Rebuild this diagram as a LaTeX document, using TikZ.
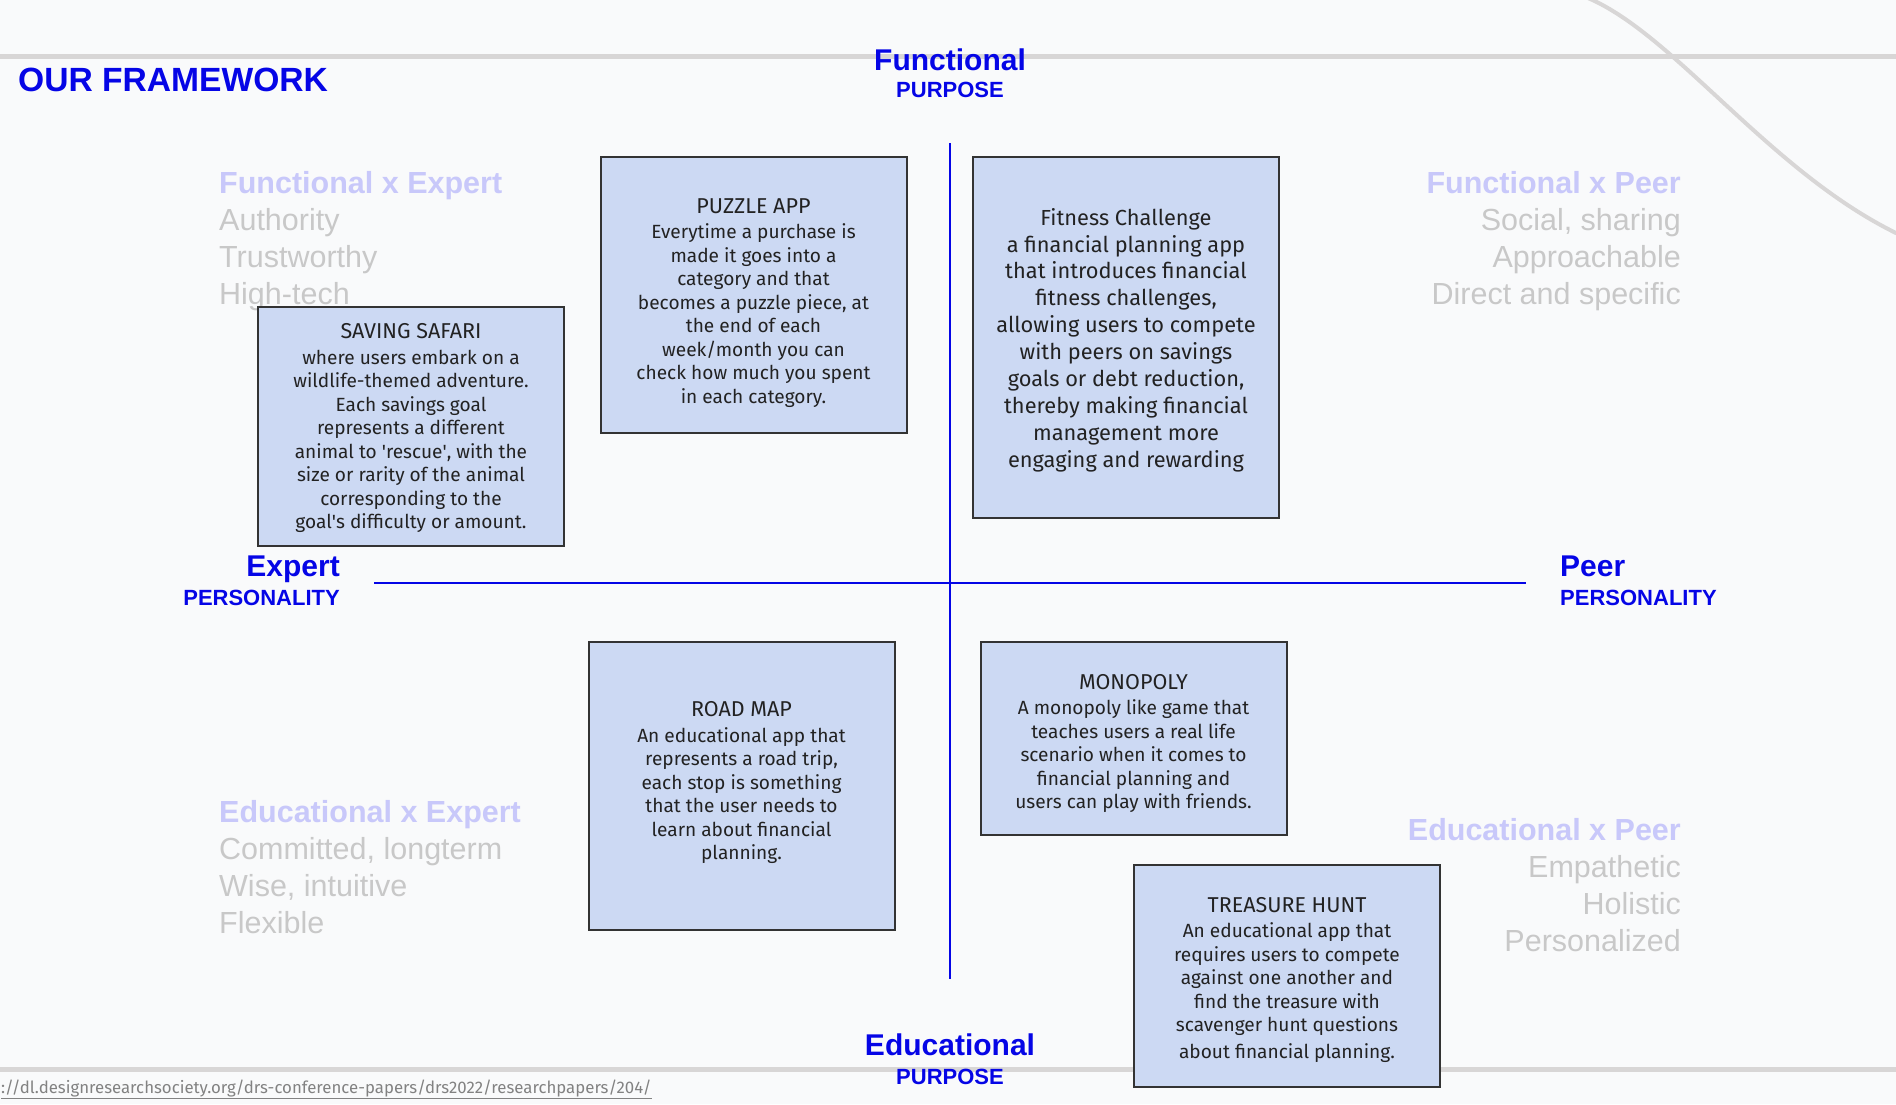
\documentclass[tikz,border=0pt]{standalone}
\usepackage{fontspec}
\setmainfont{Liberation Sans}
\newfontfamily\boxfont{Fira Sans}
\usetikzlibrary{positioning}
\definecolor{pagebg}{RGB}{249,250,251}
\definecolor{axisblue}{RGB}{5,5,230}
\definecolor{quadlav}{RGB}{200,200,250}
\definecolor{quadgrey}{RGB}{200,200,200}
\definecolor{rulegrey}{RGB}{216,214,214}
\definecolor{boxfill}{RGB}{204,217,243}
\definecolor{boxline}{RGB}{51,51,51}
\definecolor{boxtext}{RGB}{34,34,34}
\definecolor{urlgrey}{RGB}{130,130,130}
\tikzset{
	appbox/.style={
		rectangle,
		draw=boxline, line width=2pt,
		fill=boxfill,
		inner sep=0pt,
		minimum width=306pt,
		align=center,
		text=boxtext,
		font=\boxfont\fontsize{19.1}{23.5}\selectfont,
	},
	axislabel/.style={
		inner sep=0pt,
		text=axisblue,
		font=\bfseries\fontsize{30}{34}\selectfont,
	},
	axissub/.style={
		inner sep=0pt,
		text=axisblue,
		font=\bfseries\fontsize{22}{26}\selectfont,
	},
	quadlist/.style={
		inner sep=0pt,
		text=quadgrey,
		font=\fontsize{30.5}{37}\selectfont,
	},
}
\newcommand{\apptitle}[1]{{\fontsize{21.5}{23.5}\selectfont #1}}

\begin{document}
\begin{tikzpicture}[x=1pt, y=-1pt]
\fill[pagebg] (0,0) rectangle (1896,1104);
\useasboundingbox (0,0) rectangle (1896,1104);

% grey rules and swoosh
\draw[rulegrey, line width=5pt] (0,56) -- (1896,56);
\draw[rulegrey, line width=5pt] (0,1069) -- (1896,1069);
\draw[rulegrey, line width=4pt] (1588,-2) .. controls (1675,35) and (1770,172) .. (1898,234);

% axes
\coordinate (top) at (950,143);
\coordinate (bottom) at (950,979);
\coordinate (left) at (374,583);
\coordinate (right) at (1526,583);
\draw[axisblue, line width=2pt] (top) -- (bottom);
\draw[axisblue, line width=2pt] (left) -- (right);

% headings
\node (title) [anchor=base west, inner sep=0pt, text=axisblue, font=\bfseries\fontsize{33.6}{36}\selectfont] at (18,91) {OUR FRAMEWORK};
\node (functional) [axislabel, anchor=base] at (950,70) {Functional};
\node (funcsub) [axissub, below=27pt of functional.base, anchor=base] {PURPOSE};
\node (educational) [axislabel, anchor=base] at (950,1055) {Educational};
\node (edusub) [axissub, below=29pt of educational.base, anchor=base] {PURPOSE};
\node (expert) [axislabel, anchor=base east] at (340,576) {Expert};
\node (expsub) [axissub, below=29pt of expert.base east, anchor=base east] {PERSONALITY};
\node (peer) [axislabel, anchor=base west] at (1560,576) {Peer};
\node (peersub) [axissub, below=29pt of peer.base west, anchor=base west] {PERSONALITY};

% quadrant traits
\node (fxe) [quadlist, anchor=north west, align=left] at (219,171.5)
	{\textcolor{quadlav}{\bfseries Functional x Expert}\\Authority\\Trustworthy\\High-tech};
\node (fxp) [quadlist, anchor=north east, align=right] at (1681,171.5)
	{\textcolor{quadlav}{\bfseries Functional x Peer}\\Social, sharing\\Approachable\\Direct and specific};
\node (exe) [quadlist, anchor=north west, align=left] at (219,800)
	{\textcolor{quadlav}{\bfseries Educational x Expert}\\Committed, longterm\\Wise, intuitive\\Flexible};
\node (exp) [quadlist, anchor=north east, align=right] at (1681,818.5)
	{\textcolor{quadlav}{\bfseries Educational x Peer}\\Empathetic\\Holistic\\Personalized};

% app ideas
\node (safari) [appbox, minimum height=239pt] at (411,426.5)
	{\rule{0pt}{19pt}\apptitle{SAVING SAFARI}\\[2pt]where users embark on a\\wildlife-themed adventure.\\Each savings goal\\represents a different\\animal to \textquotesingle rescue\textquotesingle, with the\\size or rarity of the animal\\corresponding to the\\goal\textquotesingle s difficulty or amount.};
\node (puzzle) [appbox, minimum height=276pt] at (753.5,295)
	{\rule{0pt}{31pt}\apptitle{PUZZLE APP}\\[2pt]Everytime a purchase is\\made it goes into a\\category and that\\becomes a puzzle piece, at\\the end of each\\week/month you can\\check how much you spent\\in each category.};
\node (fitness) [appbox, minimum height=361pt, font=\boxfont\fontsize{21.8}{26.9}\selectfont] at (1126,337.5)
	{\rule{0pt}{22pt}Fitness Challenge\\a financial planning app\\that introduces financial\\fitness challenges,\\allowing users to compete\\with peers on savings\\goals or debt reduction,\\thereby making financial\\management more\\engaging and rewarding};
\node (roadmap) [appbox, minimum height=288pt] at (741.5,786)
	{\apptitle{ROAD MAP}\\[2pt]An educational app that\\represents a road trip,\\each stop is something\\that the user needs to\\learn about financial\\planning.\rule[-11pt]{0pt}{0pt}};
\node (monopoly) [appbox, minimum height=193pt] at (1133.5,738.5)
	{\rule{0pt}{25pt}\apptitle{MONOPOLY}\\[2pt]A monopoly like game that\\teaches users a real life\\scenario when it comes to\\financial planning and\\users can play with friends.};
\node (treasure) [appbox, minimum height=222pt] at (1287,976)
	{\rule{0pt}{23pt}\apptitle{TREASURE HUNT}\\[2pt]An educational app that\\requires users to compete\\against one another and\\find the treasure with\\scavenger hunt questions\\[3pt]about financial planning.};

% source
\node (source) [anchor=base west, inner sep=0pt, text=urlgrey, font=\boxfont\fontsize{16.8}{20}\selectfont] at (1,1093)
	{\underline{://dl.designresearchsociety.org/drs-conference-papers/drs2022/researchpapers/204/}};
\end{tikzpicture}
\end{document}
